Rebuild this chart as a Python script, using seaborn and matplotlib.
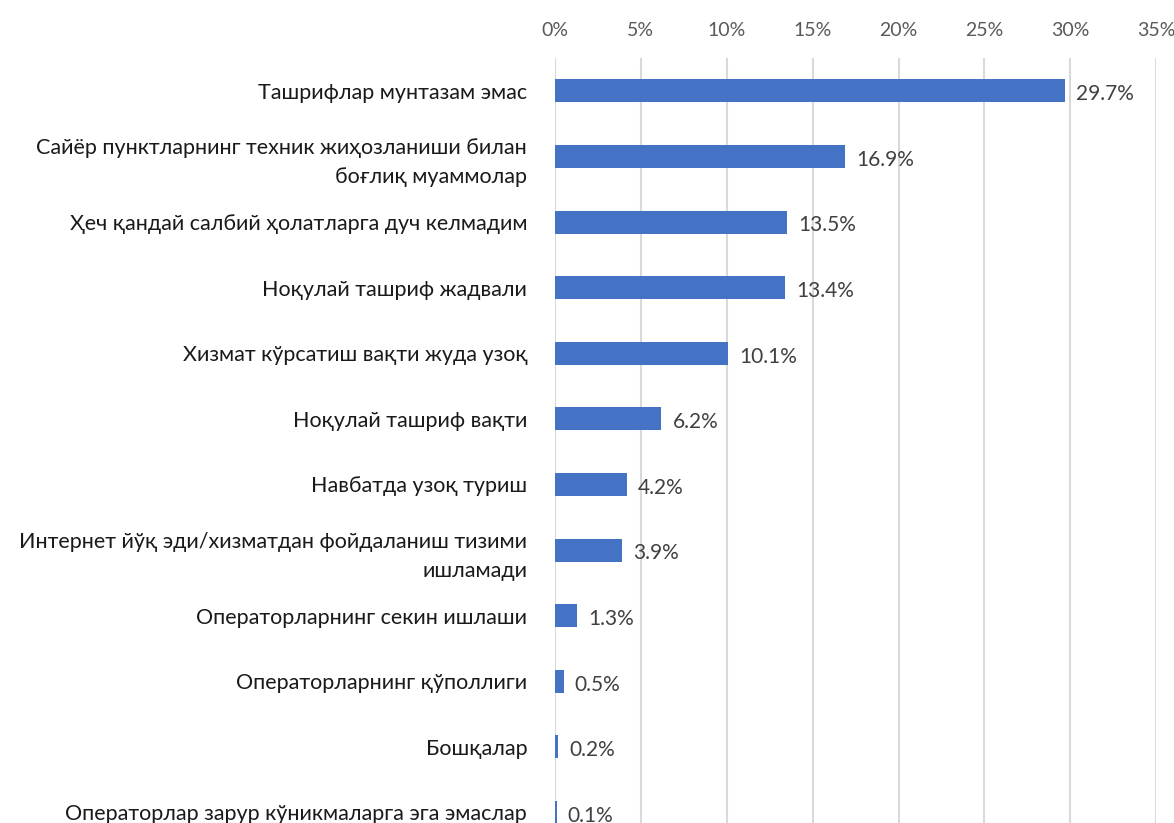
import matplotlib
matplotlib.use("Agg")
import matplotlib.pyplot as plt
import pandas as pd
import seaborn as sns
from matplotlib.ticker import FuncFormatter

# Data
categories = [
    "Ташрифлар мунтазам эмас",
    "Сайёр пунктларнинг техник жиҳозланиши билан\nбоғлиқ муаммолар",
    "Ҳеч қандай салбий ҳолатларга дуч келмадим",
    "Ноқулай ташриф жадвали",
    "Хизмат кўрсатиш вақти жуда узоқ",
    "Ноқулай ташриф вақти",
    "Навбатда узоқ туриш",
    "Интернет йўқ эди/хизматдан фойдаланиш тизими\nишламади",
    "Операторларнинг секин ишлаши",
    "Операторларнинг қўполлиги",
    "Бошқалар",
    "Операторлар зарур кўникмаларга эга эмаслар",
]
values = [29.7, 16.9, 13.5, 13.4, 10.1, 6.2, 4.2, 3.9, 1.3, 0.5, 0.2, 0.1]
x_ticks = [0, 5, 10, 15, 20, 25, 30, 35]

df = pd.DataFrame({"category": categories, "value": values})

sns.set_theme(style="white")
plt.rcParams["font.family"] = ["Lato", "DejaVu Sans"]

fig = plt.figure(figsize=(11.74, 8.23), dpi=100)
ax = fig.add_axes([0.4727, -0.027, 0.5122, 0.9565])

sns.barplot(data=df, x="value", y="category", color="#4472C4",
            saturation=1, width=0.35, linewidth=0, ax=ax)

ax.set_xlim(0, 35)
ax.set_xticks(x_ticks)
ax.xaxis.set_major_formatter(FuncFormatter(lambda v, p: f"{v:.0f}%"))
ax.xaxis.tick_top()
ax.tick_params(axis="x", length=0, pad=14, labelsize=14, labelcolor="#595959")
ax.tick_params(axis="y", length=0, pad=20, labelsize=15.5, labelcolor="#1a1a1a")
for lbl in ax.get_yticklabels():
    lbl.set_linespacing(1.55)
ax.grid(axis="x", color="#d9d9d9", linewidth=1.5)
ax.set_axisbelow(True)
for s in ax.spines.values():
    s.set_visible(False)
ax.set_xlabel("")
ax.set_ylabel("")

for i, v in enumerate(values):
    ax.text(v + 0.65, i + 0.05, f"{v:.1f}%", va="center", ha="left",
            fontsize=15, color="#404040")

fig.savefig("out.png", dpi=100)
